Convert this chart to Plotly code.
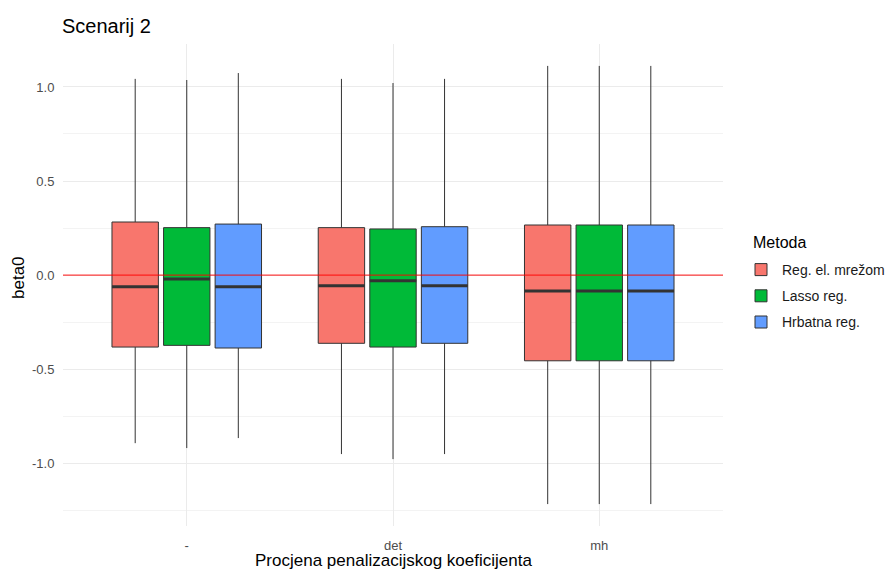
import plotly.graph_objects as go

# ---- data ----
categories = ["-", "det", "mh"]
methods = ["Reg. el. mrežom", "Lasso reg.", "Hrbatna reg."]
colors = ["#F8766D", "#00BA38", "#619CFF"]

upper_whisker = {
    "Reg. el. mrežom": [1.043, 1.043, 1.112],
    "Lasso reg.":      [1.037, 1.021, 1.112],
    "Hrbatna reg.":    [1.074, 1.043, 1.112],
}
q3_vals = {
    "Reg. el. mrežom": [0.282, 0.252, 0.266],
    "Lasso reg.":      [0.252, 0.245, 0.266],
    "Hrbatna reg.":    [0.271, 0.257, 0.266],
}
median_vals = {
    "Reg. el. mrežom": [-0.062, -0.057, -0.085],
    "Lasso reg.":      [-0.021, -0.030, -0.085],
    "Hrbatna reg.":    [-0.062, -0.057, -0.085],
}
q1_vals = {
    "Reg. el. mrežom": [-0.383, -0.363, -0.456],
    "Lasso reg.":      [-0.374, -0.383, -0.456],
    "Hrbatna reg.":    [-0.388, -0.363, -0.456],
}
lower_whisker = {
    "Reg. el. mrežom": [-0.894, -0.952, -1.218],
    "Lasso reg.":      [-0.920, -0.979, -1.218],
    "Hrbatna reg.":    [-0.867, -0.952, -1.218],
}

y_ticks = [-1.0, -0.5, 0.0, 0.5, 1.0]
y_ticklabels = ["-1.0", "-0.5", "0.0", "0.5", "1.0"]

# ---- layout helpers (ggplot-like dodge) ----
dodge = 0.75
n = len(methods)
slot = dodge / n
box_w = slot * 0.9
FONT = "Liberation Sans, Arial, sans-serif"

W, H = 891, 569
ML, MR, MT, MB = 63, 168, 44, 43
PW, PH = W - ML - MR, H - MT - MB

fig = go.Figure()
for i, m in enumerate(methods):
    off = -dodge / 2 + slot * (i + 0.5)
    xs = [k + 1 + off for k in range(len(categories))]
    fig.add_trace(go.Box(
        x=xs,
        q1=q1_vals[m], median=median_vals[m], q3=q3_vals[m],
        lowerfence=lower_whisker[m], upperfence=upper_whisker[m],
        width=box_w,
        whiskerwidth=0,
        fillcolor=colors[i],
        line=dict(color="#333333", width=1),
        name=m,
        legendgroup=m,
        boxpoints=False,
        hoverinfo="skip",
    ))
    # thick median segments (ggplot fatten)
    mx, my = [], []
    for x, med in zip(xs, median_vals[m]):
        mx += [x - box_w / 2, x + box_w / 2, None]
        my += [med, med, None]
    fig.add_trace(go.Scatter(
        x=mx, y=my, mode="lines",
        line=dict(color="#333333", width=3),
        showlegend=False, hoverinfo="skip", legendgroup=m,
    ))

# reference line at zero
fig.add_shape(type="line", xref="paper", x0=0, x1=1, yref="y", y0=0, y1=0,
              line=dict(color="rgba(255,0,0,0.75)", width=1.2), layer="above")

all_lo = min(min(v) for v in lower_whisker.values())
all_hi = max(max(v) for v in upper_whisker.values())
pad = (all_hi - all_lo) * 0.05

fig.update_layout(
    width=W, height=H,
    margin=dict(l=ML, r=MR, t=MT, b=MB, autoexpand=False),
    plot_bgcolor="white", paper_bgcolor="white",
    boxmode="overlay",
    font=dict(family=FONT, color="#000000"),
    title=dict(text="Scenarij 2", x=62 / W, xanchor="left",
               y=1 - 26 / H, yanchor="middle",
               font=dict(size=20, family=FONT, color="#000000")),
    showlegend=True,
    legend=dict(
        x=1 + 17 / PW, xanchor="left", y=(H - MB - 254) / PH, yanchor="top",
        font=dict(size=14, family=FONT, color="#1a1a1a"),
        tracegroupgap=5, itemwidth=32,
        bgcolor="rgba(0,0,0,0)",
    ),
    xaxis=dict(
        range=[0.4, len(categories) + 0.6],
        tickvals=[k + 1 for k in range(len(categories))],
        ticktext=categories,
        showgrid=True, gridcolor="#ebebeb", gridwidth=1,
        zeroline=False, showline=False,
        ticks="outside", ticklen=7, tickcolor="rgba(0,0,0,0)",
        tickfont=dict(size=13, color="#4d4d4d", family=FONT),
    ),
    yaxis=dict(
        range=[all_lo - pad, all_hi + pad],
        tickvals=y_ticks, ticktext=y_ticklabels,
        showgrid=True, gridcolor="#ebebeb", gridwidth=1,
        minor=dict(dtick=0.25, tick0=0.25, showgrid=True,
                   gridcolor="#f3f3f3", gridwidth=1),
        zeroline=False, showline=False,
        ticks="outside", ticklen=5, tickcolor="rgba(0,0,0,0)",
        tickfont=dict(size=13, color="#4d4d4d", family=FONT),
    ),
)

# axis titles and legend title
fig.add_annotation(
    text="Procjena penalizacijskog koeficijenta",
    xref="paper", x=0.5, yref="paper", y=0, yanchor="middle",
    yshift=-34, showarrow=False,
    font=dict(size=17, family=FONT, color="#000000"),
)
fig.add_annotation(
    text="beta0", textangle=-90,
    xref="paper", x=(18.5 - ML) / PW, xanchor="center",
    yref="paper", y=(H - MB - 277.5) / PH, yanchor="middle",
    showarrow=False,
    font=dict(size=17, family=FONT, color="#000000"),
)
fig.add_annotation(
    text="Metoda",
    xref="paper", x=(751 - ML) / PW, xanchor="left",
    yref="paper", y=(H - MB - 242) / PH, yanchor="middle",
    showarrow=False,
    font=dict(size=16, family=FONT, color="#000000"),
)

fig.write_html("out.html", config={"displayModeBar": False},
               post_script="document.body.style.margin='0px';")
